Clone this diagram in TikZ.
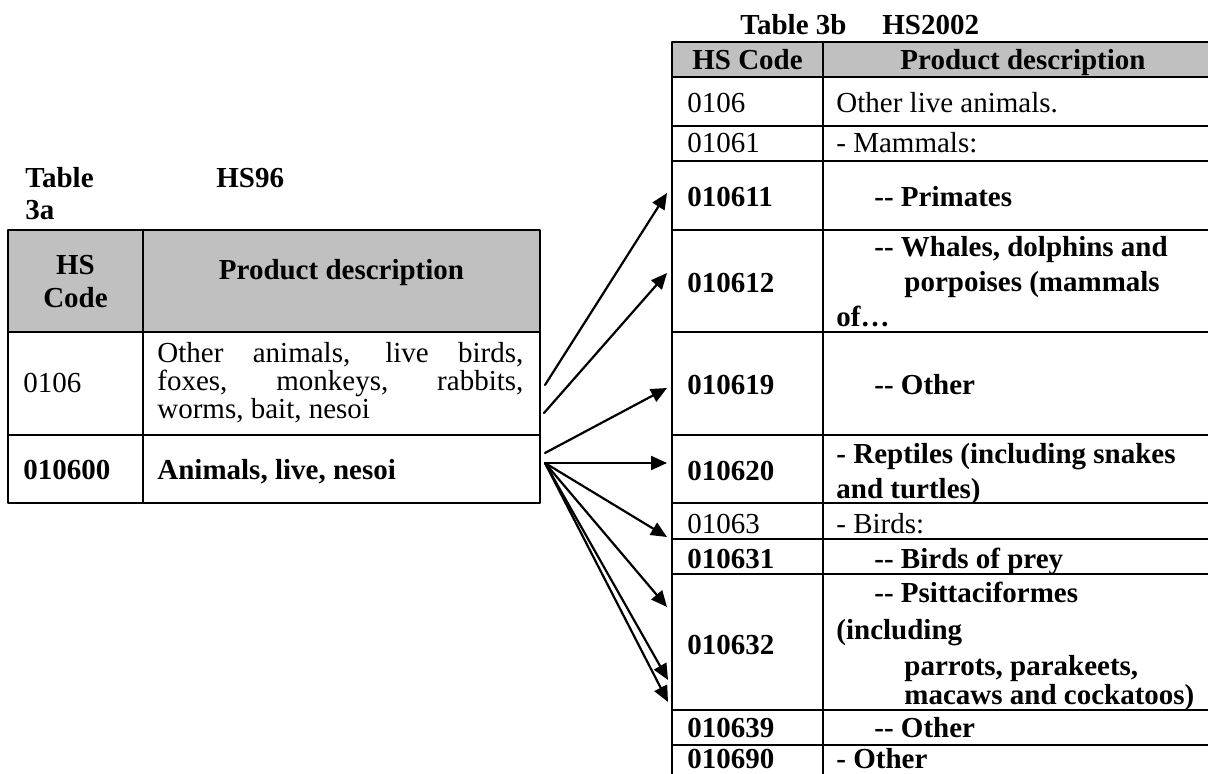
\documentclass[tikz,border=0pt]{standalone}
\usepackage{fontspec}
\setmainfont{Liberation Serif}[Ligatures=TeXOff]
\usepackage{tikz}
\usetikzlibrary{arrows.meta}
\definecolor{hdrgray}{RGB}{192,192,192}
\tikzset{txt/.style={anchor=base west,inner sep=0pt,font=\fontsize{14.5}{17}\selectfont}}
\tikzset{txtb/.style={txt,font=\fontsize{14.5}{17}\selectfont\bfseries}}
\tikzset{mid/.style={anchor=base,inner sep=0pt,font=\fontsize{14.5}{17}\selectfont\bfseries}}
\tikzset{grid/.style={line width=1.2pt}}
\tikzset{map/.style={->,line width=1.1pt}}

\begin{document}
\begin{tikzpicture}[line cap=round,line join=round,>={Triangle[length=8pt,width=7pt]},x=0.5pt,y=-0.5pt]
		\useasboundingbox (0,0) rectangle (1208,774);
		% table 3a
		\fill[hdrgray] (8,230) rectangle (540,332);
		\draw[grid] (8,230) rectangle (540,503);
		\draw[grid] (143,230) -- (143,503);
		\draw[grid] (8,332) -- (540,332);
		\draw[grid] (8,435) -- (540,435);
		\node[txtb] (ttab) at (25,188) {Table};
		\node[txtb] (tnum) at (25,220) {3a};
		\node[txtb] (ths) at (216,188) {HS96};
		\node[mid] (ahs) at (75.5,275) {HS};
		\node[mid] (acode) at (75.5,308) {Code};
		\node[mid] (adesc) at (341.5,280) {Product description};
		\node[txt] (a0106) at (23,393) {0106};
		\node[txt] (aline1) at (157,363) {\makebox[183pt][s]{Other animals, live birds,}};
		\node[txt] (aline2) at (157,391) {\makebox[183pt][s]{foxes, monkeys, rabbits,}};
		\node[txt] (aline3) at (157,419) {worms, bait, nesoi};
		\node[txtb] (a010600) at (23,479) {010600};
		\node[txtb] (aanim) at (157,479) {Animals, live, nesoi};
		% table 3b
		\fill[hdrgray] (672,42) rectangle (1208,77);
		\draw[grid] (672,774) -- (672,42) -- (1208,42);
		\draw[grid] (823,42) -- (823,774);
		\foreach \y in {77,126,161,230,332,435,503,539,574,710,745}
			\draw[grid] (672,\y) -- (1208,\y);
		\node[txtb] (btab) at (740,35) {Table 3b};
		\node[txtb] (bhs) at (882,35) {HS2002};
		\node[mid] (bcode) at (747.5,70) {HS Code};
		\node[mid] (bdesc) at (1023,70) {Product description};
		\node[txt] (b0106) at (687,113) {0106};
		\node[txt] (b0106d) at (836,113) {Other live animals.};
		\node[txt] (b01061) at (687,153) {01061};
		\node[txt] (b01061d) at (836,153) {- Mammals:};
		\node[txtb] (b010611) at (687,207) {010611};
		\node[txtb] (b010611d) at (874,207) {-- Primates};
		\node[txtb] (b010612) at (687,293) {010612};
		\node[txtb] (b010612a) at (874,257) {-- Whales, dolphins and};
		\node[txtb] (b010612b) at (904,292) {porpoises (mammals};
		\node[txtb] (b010612c) at (836,327) {of…};
		\node[txtb] (b010619) at (687,395) {010619};
		\node[txtb] (b010619d) at (874,395) {-- Other};
		\node[txtb] (b010620) at (687,480) {010620};
		\node[txtb] (b010620a) at (836,463) {- Reptiles (including snakes};
		\node[txtb] (b010620b) at (836,498) {and turtles)};
		\node[txt] (b01063) at (687,533) {01063};
		\node[txt] (b01063d) at (836,533) {- Birds:};
		\node[txtb] (b010631) at (687,568) {010631};
		\node[txtb] (b010631d) at (874,568) {-- Birds of prey};
		\node[txtb] (b010632) at (687,654) {010632};
		\node[txtb] (b010632a) at (874,602) {-- Psittaciformes};
		\node[txtb] (b010632b) at (836,639) {(including};
		\node[txtb] (b010632c) at (904,675) {parrots, parakeets,};
		\node[txtb] (b010632d) at (904,704) {macaws and cockatoos)};
		\node[txtb] (b010639) at (687,737) {010639};
		\node[txtb] (b010639d) at (874,737) {-- Other};
		\node[txtb] (b010690) at (687,768) {010690};
		\node[txtb] (b010690d) at (836,768) {- Other};
		% mapping arrows
		\coordinate (s1) at (545,385);
		\coordinate (s2) at (544,413);
		\coordinate (s3) at (545,453);
		\coordinate (s4) at (545,463);
		\coordinate (e1) at (667,193);
		\coordinate (e2) at (667,273);
		\coordinate (e3) at (667,388);
		\coordinate (e4) at (667,463);
		\coordinate (e5) at (667,537);
		\coordinate (e6) at (667,607);
		\coordinate (e7) at (668,680);
		\coordinate (e8) at (668,702);
		\draw[map] (s1) -- (e1);
		\draw[map] (s2) -- (e2);
		\draw[map] (s3) -- (e3);
		\foreach \e in {e4,e5,e6,e7,e8}
			\draw[map] (s4) -- (\e);
\end{tikzpicture}
\end{document}
